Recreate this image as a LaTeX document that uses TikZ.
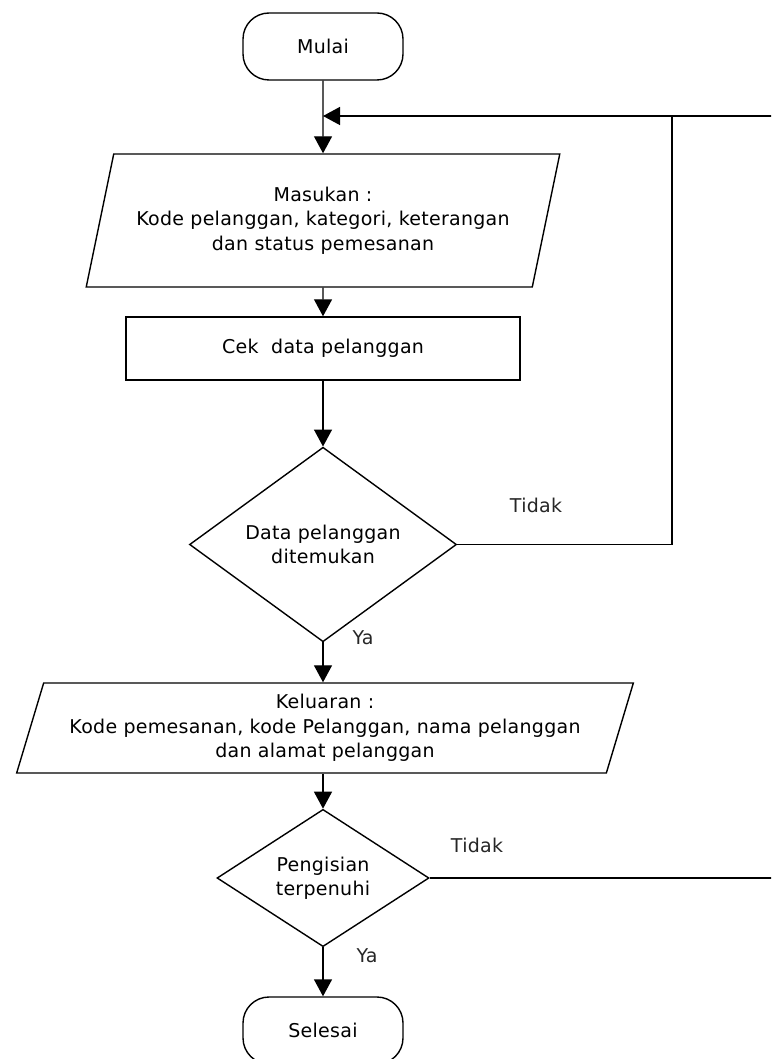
\documentclass[tikz,border=0pt]{standalone}
\usepackage{fontspec}
\setmainfont{DejaVu Sans}[LetterSpace=1.5]
\usetikzlibrary{shapes.geometric,arrows.meta}
\begin{document}
\begin{tikzpicture}[x=1pt,y=-1pt,
  every node/.style={font=\fontsize{19}{24.5}\selectfont, text=black!85},
  ln/.style={line width=1.4pt, black},
  arr/.style={ln,-{Triangle[width=18pt,length=17pt]}},
  term/.style={draw,ln,rectangle,rounded corners=26pt,minimum width=160pt,minimum height=67pt,inner sep=0pt},
  io/.style={draw,ln,trapezium,trapezium left angle=70,trapezium right angle=110,trapezium stretches=true,align=center,inner sep=0pt},
  proc/.style={draw,ln,rectangle,minimum width=394pt,minimum height=63pt,inner sep=0pt},
  dec/.style={draw,ln,diamond,align=center,inner sep=0pt},
  lbl/.style={inner sep=0pt}]
\useasboundingbox (0,0) rectangle (771,1059);
\clip (0,0) rectangle (771,1059);

\node[term] (start) at (323,46.5) {Mulai};
\node[io, minimum width=474pt, minimum height=133pt] (in) at (323,220.5)
  {Masukan :\\Kode pelanggan, kategori, keterangan\\dan status pemesanan};
\node[proc] (cek) at (323,348.5) {Cek\ \ data pelanggan};
\node[dec, minimum width=267pt, minimum height=165pt] (d1) at (323,544.5)
  {Data pelanggan\\ditemukan};
\node[io, minimum width=622pt, minimum height=90pt] (out) at (325,728)
  {Keluaran :\\Kode pemesanan, kode Pelanggan, nama pelanggan\\dan alamat pelanggan};
\node[dec, minimum width=212pt, minimum height=117pt] (d2) at (323,878)
  {Pengisian\\terpenuhi};
\node[term] (end) at (323,1030.5) {Selesai};

\node[lbl] (t1) at (536,505) {Tidak};
\node[lbl] (y1) at (363,638) {Ya};
\node[lbl] (t2) at (477,845) {Tidak};
\node[lbl] (y2) at (367,956) {Ya};

\coordinate (j) at (323,116);
\coordinate (c1) at (672,116);
\coordinate (r1) at (790,116);
\coordinate (r2) at (790,878);

\draw[arr] (start.south) -- (in.north);
\draw[arr] (in.south) -- (cek.north);
\draw[arr] (cek.south) -- (d1.north);
\draw[arr] (d1.south) -- (d1.south |- out.north);
\draw[arr] (d1.south |- out.south) -- (d2.north);
\draw[arr] (d2.south) -- (end.north);
\draw[ln] (d1.east) -| (c1);
\draw[arr] (r1) -- (j);
\draw[ln] (d2.east) -- (r2);
\end{tikzpicture}
\end{document}
